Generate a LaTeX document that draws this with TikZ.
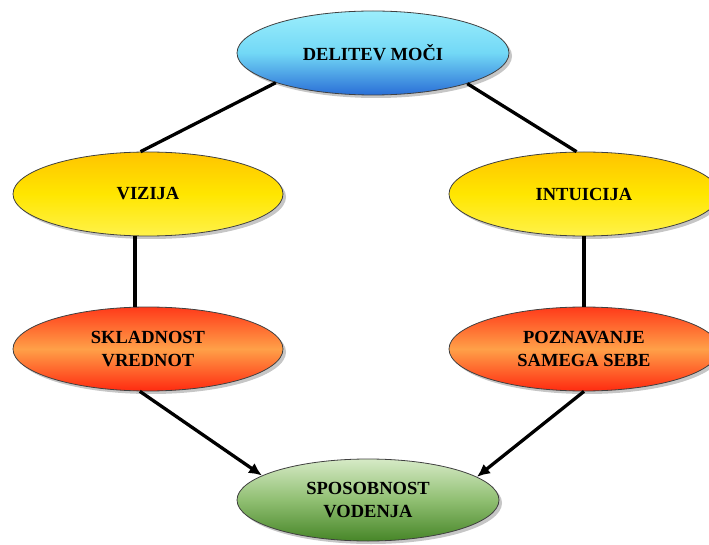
\documentclass[tikz,border=0pt]{standalone}
\usepackage{fontspec}
\setmainfont{Liberation Serif}
\usepackage{xcolor}
\usepackage{tikz}
\usetikzlibrary{shapes.geometric,arrows.meta,shadows}
\definecolor{skyTop}{HTML}{9CEEFC}
\definecolor{skyMid}{HTML}{72D8F6}
\definecolor{skyBot}{HTML}{2A6ED6}
\definecolor{sunTop}{HTML}{FFC400}
\definecolor{sunMid}{HTML}{FFE600}
\definecolor{sunBot}{HTML}{FFF24A}
\definecolor{fireTop}{HTML}{FF3A1A}
\definecolor{fireMid}{HTML}{FFA048}
\definecolor{fireBot}{HTML}{FF2A10}
\definecolor{leafTop}{HTML}{D6EAC6}
\definecolor{leafMid}{HTML}{90BF72}
\definecolor{leafBot}{HTML}{478628}

\begin{document}
\begin{tikzpicture}[x=1pt,y=-1pt,
  font=\bfseries\fontsize{18.5}{23}\selectfont,
  oval/.style={ellipse, draw=black!75, line width=0.8pt, inner sep=0pt,
               minimum width=270pt, minimum height=84pt, align=center,
               drop shadow={opacity=0.45, shadow xshift=3pt, shadow yshift=-3pt}},
  sky/.style={oval, top color=skyTop, bottom color=skyBot, middle color=skyMid},
  sun/.style={oval, top color=sunTop, bottom color=sunBot, middle color=sunMid},
  fire/.style={oval, top color=fireTop, bottom color=fireBot, middle color=fireMid},
  leaf/.style={oval, top color=leafTop, bottom color=leafBot, middle color=leafMid},
  link/.style={line width=3.3pt, black},
  arr/.style={link, -{Latex[length=13pt,width=12pt]}}]
\useasboundingbox (0,0) rectangle (709,545);

\node[sky, minimum width=272pt] (moc) at (373,53) {DELITEV MOČI};
\node[sun] (vizija) at (148,194) {VIZIJA};
\node[sun] (intuicija) at (584,194) {INTUICIJA};
\node[fire] (skladnost) at (148,349) {SKLADNOST\\VREDNOT};
\node[fire] (poznavanje) at (584,349) {POZNAVANJE\\SAMEGA SEBE};
\node[leaf, minimum width=262pt, minimum height=82pt] (vodenje) at (368,500) {SPOSOBNOST\\VODENJA};

\draw[link] (moc.197) -- (vizija.100);
\draw[link] (moc.342) -- (intuicija.100);
\draw[link] (vizija.253) -- (skladnost.107);
\draw[link] (intuicija.south) -- (poznavanje.north);
\draw[arr] (skladnost.259) -- (vodenje.167);
\draw[arr] (poznavanje.south) -- (vodenje.12);
\end{tikzpicture}
\end{document}
